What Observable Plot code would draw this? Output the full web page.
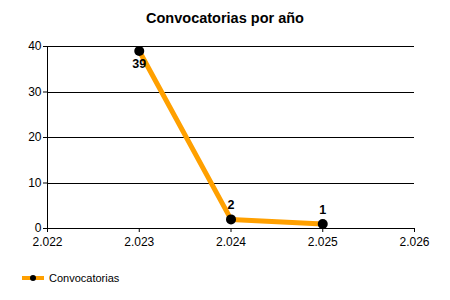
<!DOCTYPE html>
<html>
<head>
<meta charset="utf-8">
<script src="https://cdn.jsdelivr.net/npm/d3@7"></script>
<script src="https://cdn.jsdelivr.net/npm/@observablehq/plot@0.6"></script>
<style>
  body { margin: 0; background: #fff; font-family: "Liberation Sans", Arial, sans-serif; }
  #wrap { width: 450px; height: 300px; position: relative; overflow: hidden; }
  #title { position: absolute; top: 10px; left: 0; width: 450px; text-align: center; font-weight: bold; font-size: 14.5px; color: #000; }
  #chart { position: absolute; top: 30px; left: 0; }
  #legend { position: absolute; top: 272px; left: 22px; font-size: 11px; display: flex; align-items: center; color: #000; }
  #legend svg { margin-right: 5px; }
  #chart line { shape-rendering: crispEdges; }
</style>
</head>
<body>
<div id="wrap">
  <div id="title">Convocatorias por año</div>
  <div id="chart"></div>
  <div id="legend"></div>
</div>
<script>
const years = [2023, 2024, 2025];
const counts = [39, 2, 1];
const seriesName = "Convocatorias";
const xTicks = [2022, 2023, 2024, 2025, 2026];
const yTicks = [0, 10, 20, 30, 40];

const data = years.map((y, i) => ({year: y, value: counts[i]}));
const loc = d3.formatLocale({decimal: ",", thousands: ".", grouping: [3], currency: ["", "€"]});
const fmt = loc.format(",");
const orange = "#ffa000";

const plot = Plot.plot({
  width: 450,
  height: 226,
  marginTop: 16,
  marginLeft: 47,
  marginRight: 36,
  marginBottom: 28,
  style: {fontFamily: "Liberation Sans, Arial, sans-serif", fontSize: "12px", color: "#000", background: "transparent"},
  x: {domain: [2022, 2026], ticks: xTicks, tickFormat: fmt, label: null},
  y: {domain: [0, 40], ticks: yTicks, label: null},
  marks: [
    Plot.ruleY(yTicks.filter(d => d > 0), {stroke: "#000", strokeWidth: 1}),
    Plot.ruleY([0], {stroke: "#000"}),
    Plot.ruleX([2022], {y1: 0, y2: 40, stroke: "#000"}),
    Plot.axisX({ticks: xTicks, tickFormat: fmt, tickSize: 4, tickPadding: 5, fontSize: 12, label: null, strokeOpacity: 1}),
    Plot.axisY({ticks: yTicks, tickSize: 4, tickPadding: 2, fontSize: 12, label: null, strokeOpacity: 1}),
    Plot.line(data, {x: "year", y: "value", stroke: orange, strokeWidth: 5}),
    Plot.dot(data, {x: "year", y: "value", r: 5, fill: "#000"}),
    Plot.text(data.filter(d => d.value > 20), {x: "year", y: "value", text: d => String(d.value), dy: 13, fontWeight: "bold", fontSize: 12.5, fill: "#000"}),
    Plot.text(data.filter(d => d.value <= 20), {x: "year", y: "value", text: d => String(d.value), dy: -14, fontWeight: "bold", fontSize: 12.5, fill: "#000"})
  ]
});
document.getElementById("chart").appendChild(plot);

const leg = document.getElementById("legend");
leg.innerHTML = `<svg width="22" height="10"><line x1="0" y1="5" x2="22" y2="5" stroke="${orange}" stroke-width="4"/><circle cx="11" cy="5" r="3" fill="#000"/></svg><span>${seriesName}</span>`;
</script>
</body>
</html>
